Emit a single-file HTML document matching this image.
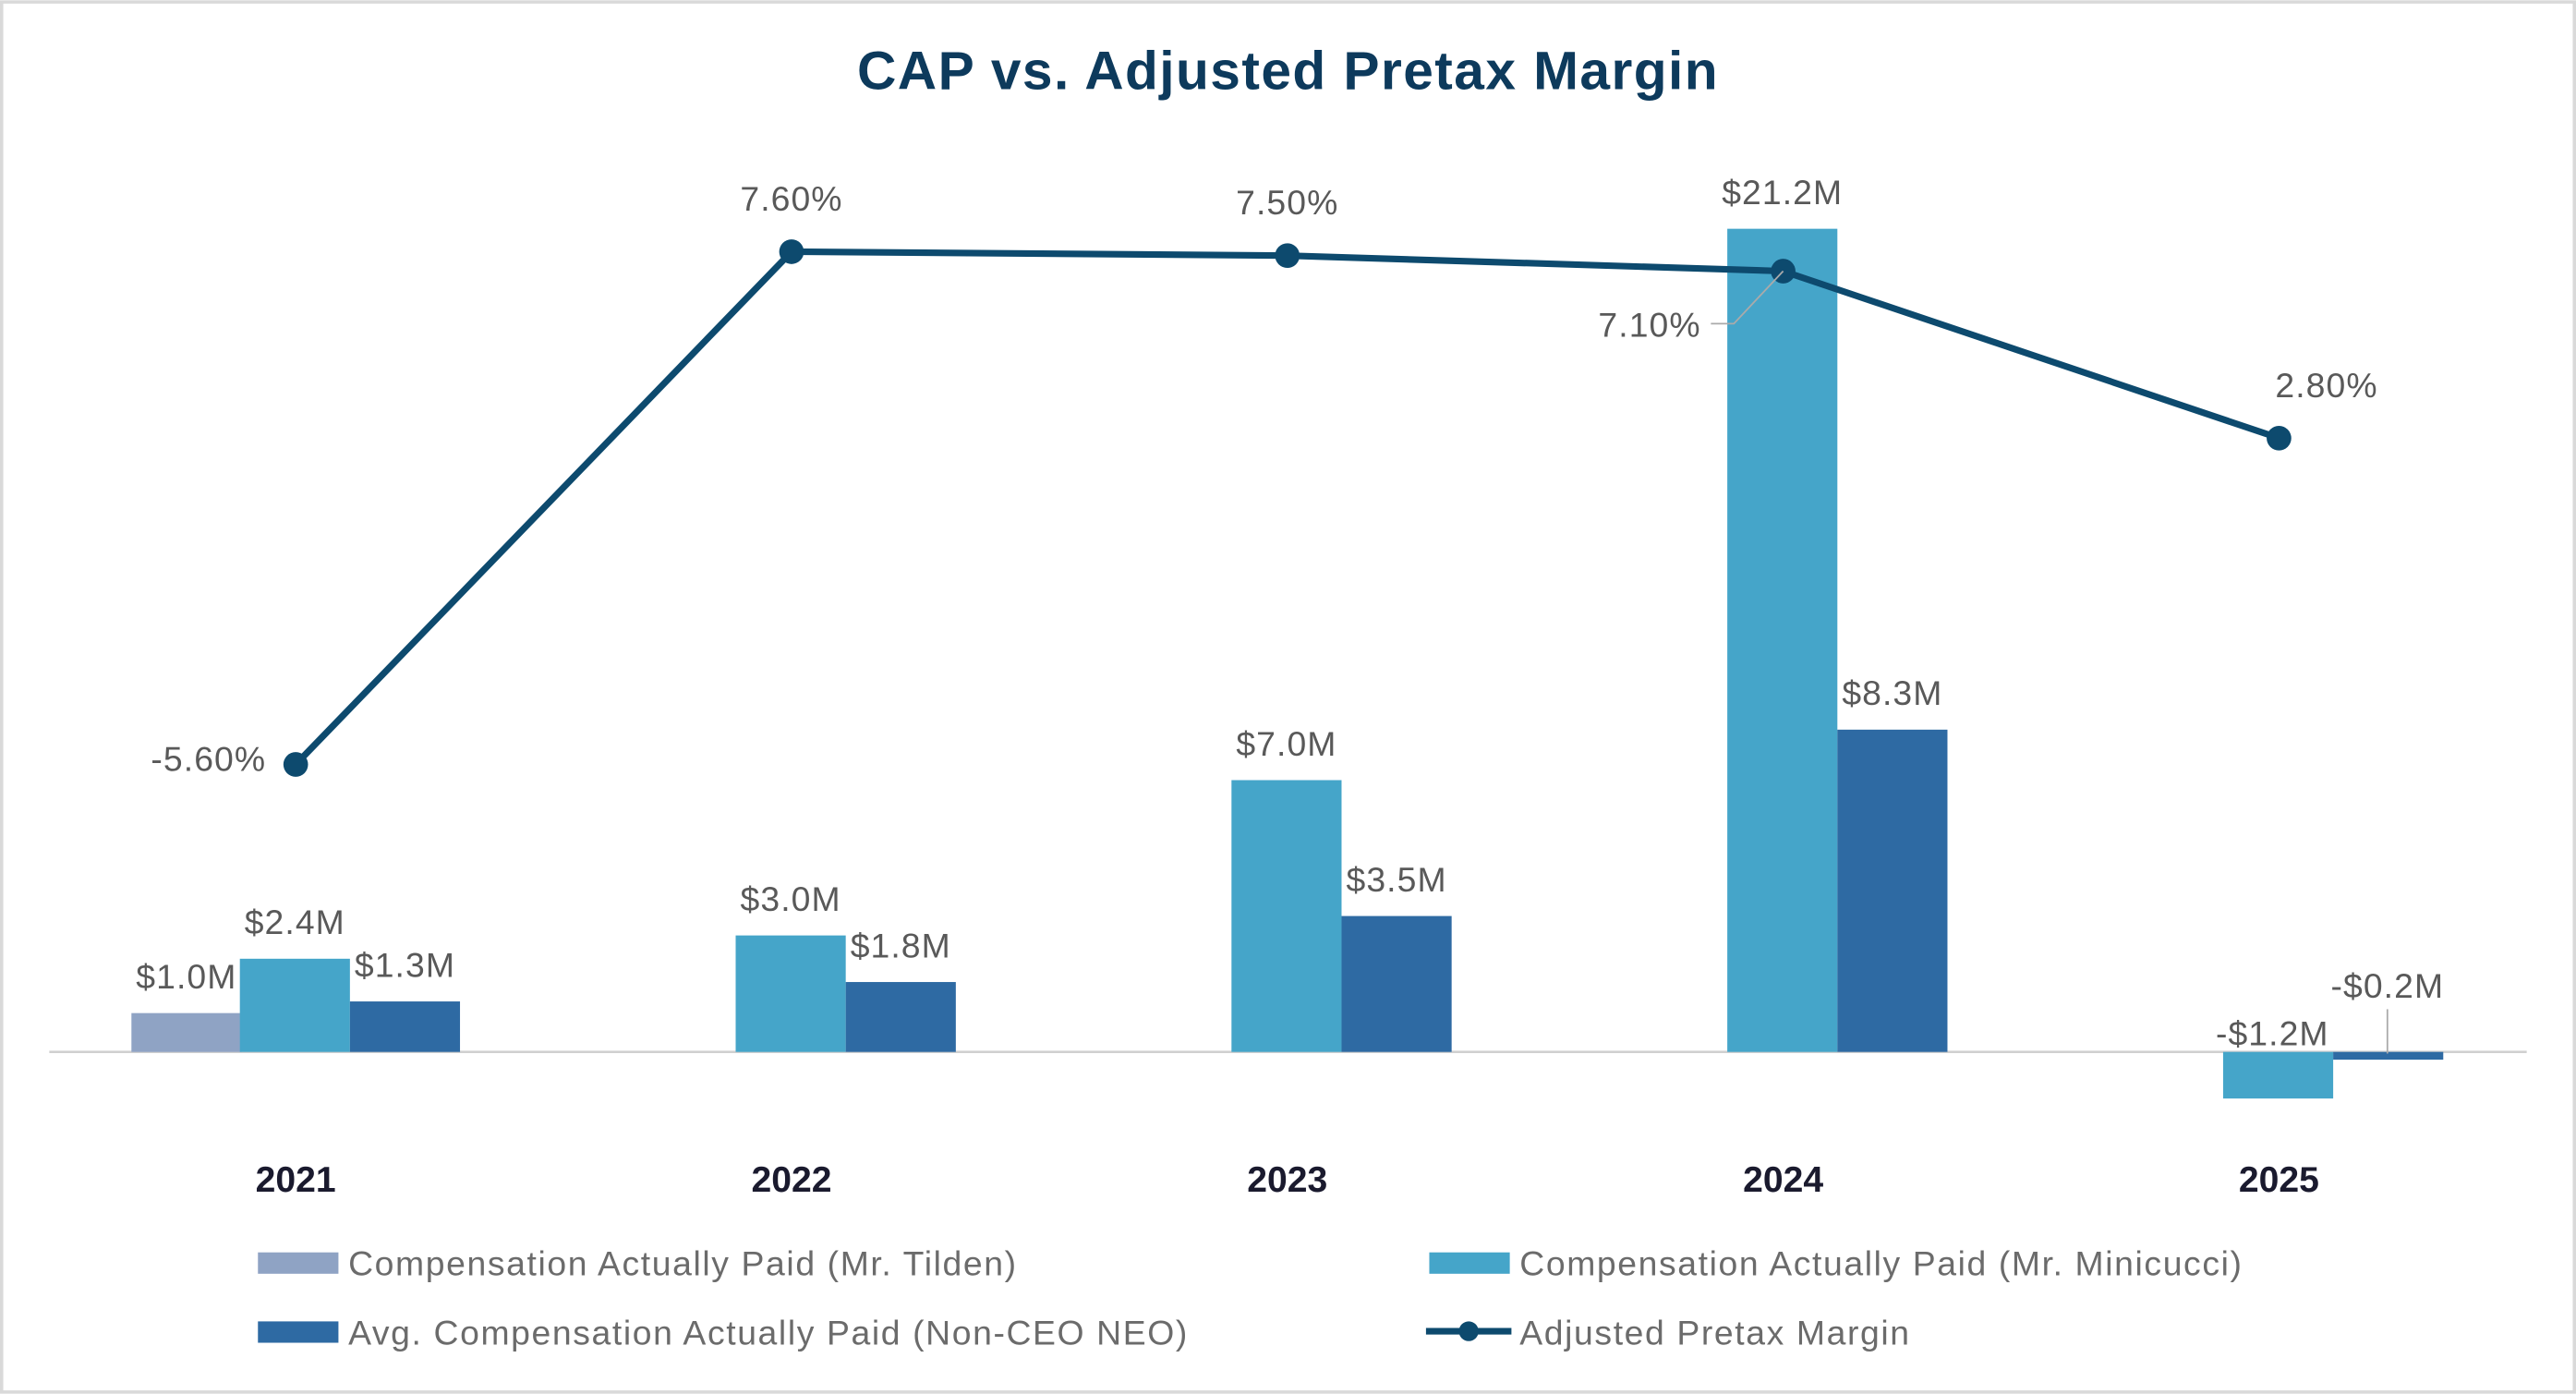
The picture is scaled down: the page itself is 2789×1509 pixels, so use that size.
<!DOCTYPE html>
<html><head><meta charset="utf-8"><style>
html,body{margin:0;padding:0;background:#fff;}
svg{display:block;}
text{font-family:"Liberation Sans",sans-serif;}
</style></head><body>
<svg id="chart" width="2789" height="1509" viewBox="0 0 1568 848">
<rect x="1" y="1" width="1566" height="846" fill="#fff" stroke="#d9d9d9" stroke-width="2"/>
<text x="784" y="54" text-anchor="middle" font-size="33" font-weight="bold" fill="#0d3a5c" letter-spacing="0.8">CAP vs. Adjusted Pretax Margin</text>
<line x1="30" y1="640" x2="1538" y2="640" stroke="#d0d0d0" stroke-width="1.5"/>
<g id="bars"></g><g id="line"></g><g id="labels"></g>
<g letter-spacing="0.9">
<rect x="157" y="762" width="49" height="13" fill="#8fa3c4"/>
<text x="212" y="776" font-size="21" fill="#6b6b6b">Compensation Actually Paid (Mr. Tilden)</text>
<rect x="870" y="762" width="49" height="13" fill="#45a5c9"/>
<text x="925" y="776" font-size="21" fill="#6b6b6b">Compensation Actually Paid (Mr. Minicucci)</text>
<rect x="157" y="804" width="49" height="13" fill="#2e6aa3"/>
<text x="212" y="818" font-size="21" fill="#6b6b6b">Avg. Compensation Actually Paid (Non-CEO NEO)</text>
<line x1="868" y1="810" x2="920" y2="810" stroke="#0d4a6e" stroke-width="4"/>
<circle cx="894" cy="810" r="6" fill="#0d4a6e"/>
<text x="925" y="818" font-size="21" fill="#6b6b6b">Adjusted Pretax Margin</text>
</g>
</svg>
<script>
const years=["2021","2022","2023","2024","2025"];
const tilden=[1.0,null,null,null,null];
const minicucci=[2.4,3.0,7.0,21.2,-1.2];
const neo=[1.3,1.8,3.5,8.3,-0.2];
const margin=[-5.6,7.6,7.5,7.1,2.8];
const marginLabels=["-5.60%","7.60%","7.50%","7.10%","2.80%"];

const NS="http://www.w3.org/2000/svg";
const xC=i=>180+i*301.8;
const yB=v=>640-v*23.63;
const yL=v=>153+(7.6-v)*23.64;
const fmt=v=>(v<0?"-":"")+"$"+Math.abs(v).toFixed(1)+"M";
function mk(tag,attrs,parent){const e=document.createElementNS(NS,tag);for(const k in attrs)e.setAttribute(k,attrs[k]);document.getElementById(parent).appendChild(e);return e;}
const series=[[tilden,"#8fa3c4",-100,"tilden"],[minicucci,"#45a5c9",-34,"minicucci"],[neo,"#2e6aa3",33,"neo"]];
series.forEach(([arr,col,off,nm])=>{
  arr.forEach((v,i)=>{
    if(v===null)return;
    const x=xC(i)+off,y0=yB(0),y1=yB(v);
    const r=mk("rect",{x:x,y:Math.min(y0,y1),width:67,height:Math.max(Math.abs(y1-y0),2),fill:col},"bars");
    
    
    let lx=x+33.5,ly=Math.min(y0,y1)-15;
    if(v<0){ly=yB(0)-4;}
    if(nm==="neo"&&v<0&&v>-0.5){lx=x+33;ly=607;mk("line",{x1:x+33,y1:614,x2:x+33,y2:641,stroke:"#aaa","stroke-width":1},"labels");}
    if(nm==="minicucci"&&v<0){lx=x+30;}
    const t=mk("text",{x:lx,y:ly,"text-anchor":"middle","font-size":21,fill:"#595959","letter-spacing":0.6},"labels");
    t.textContent=fmt(v);
    
    
  });
});
years.forEach((y,i)=>{
  const t=mk("text",{x:xC(i),y:725,"text-anchor":"middle","font-size":22,"font-weight":"bold",fill:"#1a1a2e"},"labels");
  t.textContent=y;
  
  
});
const pts=margin.map((v,i)=>xC(i)+","+yL(v)).join(" ");
const pl=mk("polyline",{points:pts,fill:"none",stroke:"#0d4a6e","stroke-width":4},"line");


margin.forEach((v,i)=>{
  const c=mk("circle",{cx:xC(i),cy:yL(v),r:7.5,fill:"#0d4a6e"},"line");
  
  
  let lx=xC(i),ly=yL(v)-25,anchor="middle";
  if(i===0){lx=xC(i)-18;ly=yL(v)+4;anchor="end";}
  if(i===3){lx=xC(i)-50;ly=yL(v)+40;anchor="end";
    mk("polyline",{points:(xC(i)-44)+","+(yL(v)+32)+" "+(xC(i)-30)+","+(yL(v)+32)+" "+xC(i)+","+yL(v),fill:"none",stroke:"#aaa","stroke-width":1},"labels");}
  if(i===4){lx=xC(i)+29;ly=yL(v)-25;}
  const t=mk("text",{x:lx,y:ly,"text-anchor":anchor,"font-size":21,fill:"#595959","letter-spacing":0.6},"labels");
  t.textContent=marginLabels[i];
  
  
});
</script>
</body></html>
